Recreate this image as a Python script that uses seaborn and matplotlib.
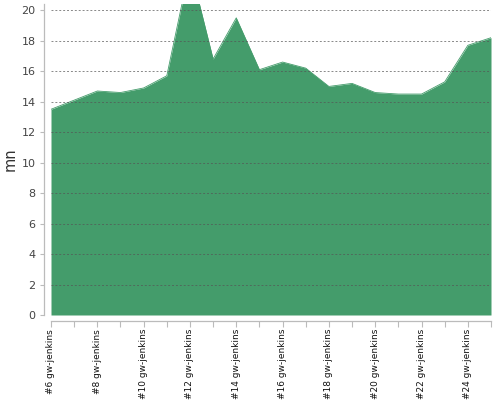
import matplotlib
matplotlib.use("Agg")
import matplotlib.pyplot as plt
import seaborn as sns
import pandas as pd
from matplotlib.ticker import MultipleLocator, FixedLocator, FixedFormatter

builds = list(range(6, 26))
durations = [13.5, 14.1, 14.7, 14.6, 14.9, 15.7, 22.9, 16.8, 19.5, 16.1,
             16.6, 16.2, 15.0, 15.2, 14.6, 14.5, 14.5, 15.3, 17.7, 18.2]
label_builds = list(range(6, 25, 2))
tick_labels = [f"#{b} gw-jenkins" for b in label_builds]
y_label = "mn"

df = pd.DataFrame({"build": builds, "duration": durations})

sns.set_style("white")
fig = plt.figure(figsize=(5, 4), dpi=100)
ax = fig.add_axes([0.102, 0.2125, 0.88, 0.7775])

color = "#449c6b"
sns.lineplot(data=df, x="build", y="duration", ax=ax, color=color, linewidth=0.6)
ax.fill_between(df["build"], 0, df["duration"], color=color, linewidth=0, zorder=2)

ax.set_xlim(6, 25)
ax.set_ylim(0, 20.41)
ax.yaxis.set_major_locator(MultipleLocator(2))
ax.xaxis.set_major_locator(FixedLocator(label_builds))
ax.xaxis.set_major_formatter(FixedFormatter(tick_labels))
ax.xaxis.set_minor_locator(MultipleLocator(1))
ax.tick_params(axis="x", which="both", length=4, color="#bbbbbb", width=0.8, pad=2, bottom=True,
               labelrotation=90, labelsize=6.5, labelcolor="#111111")
ax.tick_params(axis="y", length=3, color="#bbbbbb", width=0.8, labelsize=8, labelcolor="#444444", pad=3, left=True)
ax.set_xlabel("")
ax.set_ylabel(y_label, fontsize=10.5, color="#333333", labelpad=3)

ax.grid(axis="y", color="#555555", alpha=0.7, linestyle=(0, (2, 2)), linewidth=0.7, zorder=3)
ax.grid(axis="x", visible=False)
ax.set_axisbelow(False)

for s in ["top", "right"]:
    ax.spines[s].set_visible(False)
ax.spines["left"].set_color("#bbbbbb")
ax.spines["bottom"].set_color("#bbbbbb")
ax.spines["left"].set_position(("outward", 5))
ax.spines["bottom"].set_position(("outward", 4))
ax.spines["left"].set_linewidth(0.9)
ax.spines["bottom"].set_linewidth(0.9)

fig.savefig("out.png", dpi=100)
